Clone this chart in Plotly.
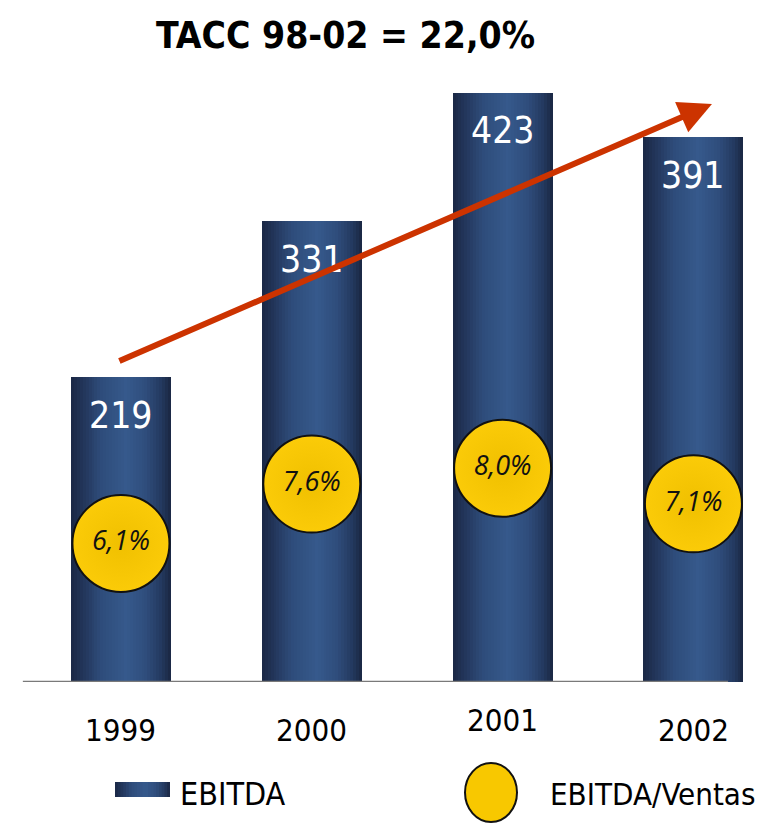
import plotly.graph_objects as go

# ---------------- data ----------------
YEARS = ["1999", "2000", "2001", "2002"]
EBITDA = [219, 331, 423, 391]
EBITDA_VENTAS = [6.1, 7.6, 8.0, 7.1]
TITLE = "TACC 98-02 = 22,0%"
LEGEND_BAR = "EBITDA"
LEGEND_CIRCLE = "EBITDA/Ventas"

# ---------------- layout geometry ----------------
OFF = 8  # default page body margin
W, H = 769 - OFF, 824 - OFF
ML, MR, MT, MB = 12, 0, 43, 142
PW = W - ML - MR
PH = H - MT - MB
X_RANGE = [-0.529, 3.396]
Y_RANGE = [0, 453.1]
Y2_RANGE = [2.60, 18.54]
BAR_W = 0.524

NARROW = "DejaVu Sans Condensed, Liberation Sans Narrow, sans-serif"

# cylinder-like shading profile across the bar (position, rgb)
PROFILE = [
    (0.00, (26, 39, 68)),
    (0.12, (34, 53, 90)),
    (0.30, (46, 76, 122)),
    (0.55, (54, 89, 140)),
    (0.75, (47, 77, 124)),
    (0.90, (36, 58, 96)),
    (1.00, (26, 38, 66)),
]


def shade(t):
    for (t0, c0), (t1, c1) in zip(PROFILE[:-1], PROFILE[1:]):
        if t0 <= t <= t1:
            f = (t - t0) / (t1 - t0) if t1 > t0 else 0
            c = [round(a + (b - a) * f) for a, b in zip(c0, c1)]
            return "rgb({},{},{})".format(*c)
    return "rgb({},{},{})".format(*PROFILE[-1][1])


def px_x(px):
    return (px - OFF - ML) / PW


def px_y(py):
    return (H - MB - (py - OFF)) / PH


fig = go.Figure()

# bars built from thin overlaid slices to give the shaded look
N = 34
step = BAR_W / N
for i in range(N):
    start = -BAR_W / 2 + i * step
    wdt = min(step * 1.3, BAR_W / 2 - start)
    fig.add_trace(go.Bar(
        x=YEARS, y=EBITDA, width=wdt, offset=start,
        marker=dict(color=shade((i + 0.5) / N), line=dict(width=0)),
        showlegend=False, hoverinfo="skip",
    ))

# baseline
fig.add_shape(type="line", xref="x", yref="y", x0=-0.514, x1=3.181, y0=0, y1=0,
              line=dict(color="#7a7a7a", width=2.5), layer="above")

# ratio circles
fig.add_trace(go.Scatter(
    x=YEARS, y=EBITDA_VENTAS, yaxis="y2", mode="markers+text",
    marker=dict(size=97, color="#FBCB08",
                gradient=dict(type="radial", color="#F0C000"),
                line=dict(color="#111111", width=2)),
    text=[f"{v:.1f}".replace(".", ",") + "%" for v in EBITDA_VENTAS],
    textposition="middle center",
    textfont=dict(family="Open Sans, DejaVu Sans, sans-serif", size=27, color="#111111",
                  style="italic"),
    showlegend=False, hoverinfo="skip",
))

# value labels inside the bars
for i, v in enumerate(EBITDA):
    fig.add_annotation(x=i, y=v, xref="x", yref="y", text=str(v), showarrow=False,
                       yanchor="middle", yshift=-38,
                       font=dict(family=NARROW, size=37, color="white"))

# growth arrow: from top of first bar towards the right
fig.add_annotation(x=3.097, y=415, ax=-0.016, ay=230, xref="x", yref="y",
                   axref="x", ayref="y", text="", showarrow=True,
                   arrowhead=2, arrowsize=1.1, arrowwidth=6, arrowcolor="#CC3300",
                   standoff=0, startstandoff=0)

# year labels
YEAR_SHIFT = {"2001": 10}
for i, yr in enumerate(YEARS):
    fig.add_annotation(x=i, y=0, xref="x", yref="y", text=yr, showarrow=False,
                       yanchor="middle", yshift=-48 + YEAR_SHIFT.get(yr, 0),
                       font=dict(family=NARROW, size=31, color="black"))

# title
fig.add_annotation(x=px_x(345), y=px_y(35), xref="paper", yref="paper", text=TITLE,
                   showarrow=False, xanchor="center", yanchor="middle",
                   font=dict(family=NARROW, size=37, color="black", weight="bold"))

# legend: shaded swatch
NS = 20
x0, x1 = 115, 170
for i in range(NS):
    a = x0 + (x1 - x0) * i / NS
    b = min(x0 + (x1 - x0) * (i + 1.3) / NS, x1)
    fig.add_shape(type="rect", xref="paper", yref="paper",
                  x0=px_x(a), x1=px_x(b), y0=px_y(797), y1=px_y(782),
                  line=dict(width=0), fillcolor=shade((i + 0.5) / NS))
fig.add_annotation(x=px_x(178), y=px_y(794), xref="paper", yref="paper", text=LEGEND_BAR,
                   showarrow=False, xanchor="left", yanchor="middle",
                   font=dict(family=NARROW, size=32, color="black"))

# legend: circle
fig.add_shape(type="circle", xref="paper", yref="paper",
              x0=px_x(465), x1=px_x(517), y0=px_y(822), y1=px_y(763),
              fillcolor="#F8C800", line=dict(color="#111111", width=2))
fig.add_annotation(x=px_x(548), y=px_y(794), xref="paper", yref="paper", text=LEGEND_CIRCLE,
                   showarrow=False, xanchor="left", yanchor="middle",
                   font=dict(family=NARROW, size=31, color="black"))

fig.update_layout(
    width=W, height=H,
    margin=dict(l=ML, r=MR, t=MT, b=MB),
    paper_bgcolor="white", plot_bgcolor="white",
    barmode="overlay", bargap=0,
    xaxis=dict(type="category", range=X_RANGE, showticklabels=False, showgrid=False,
               zeroline=False, showline=False, ticks=""),
    yaxis=dict(range=Y_RANGE, visible=False, showgrid=False, zeroline=False),
    yaxis2=dict(range=Y2_RANGE, overlaying="y", visible=False, showgrid=False,
                zeroline=False),
    showlegend=False,
)

fig.write_html("out.html")
